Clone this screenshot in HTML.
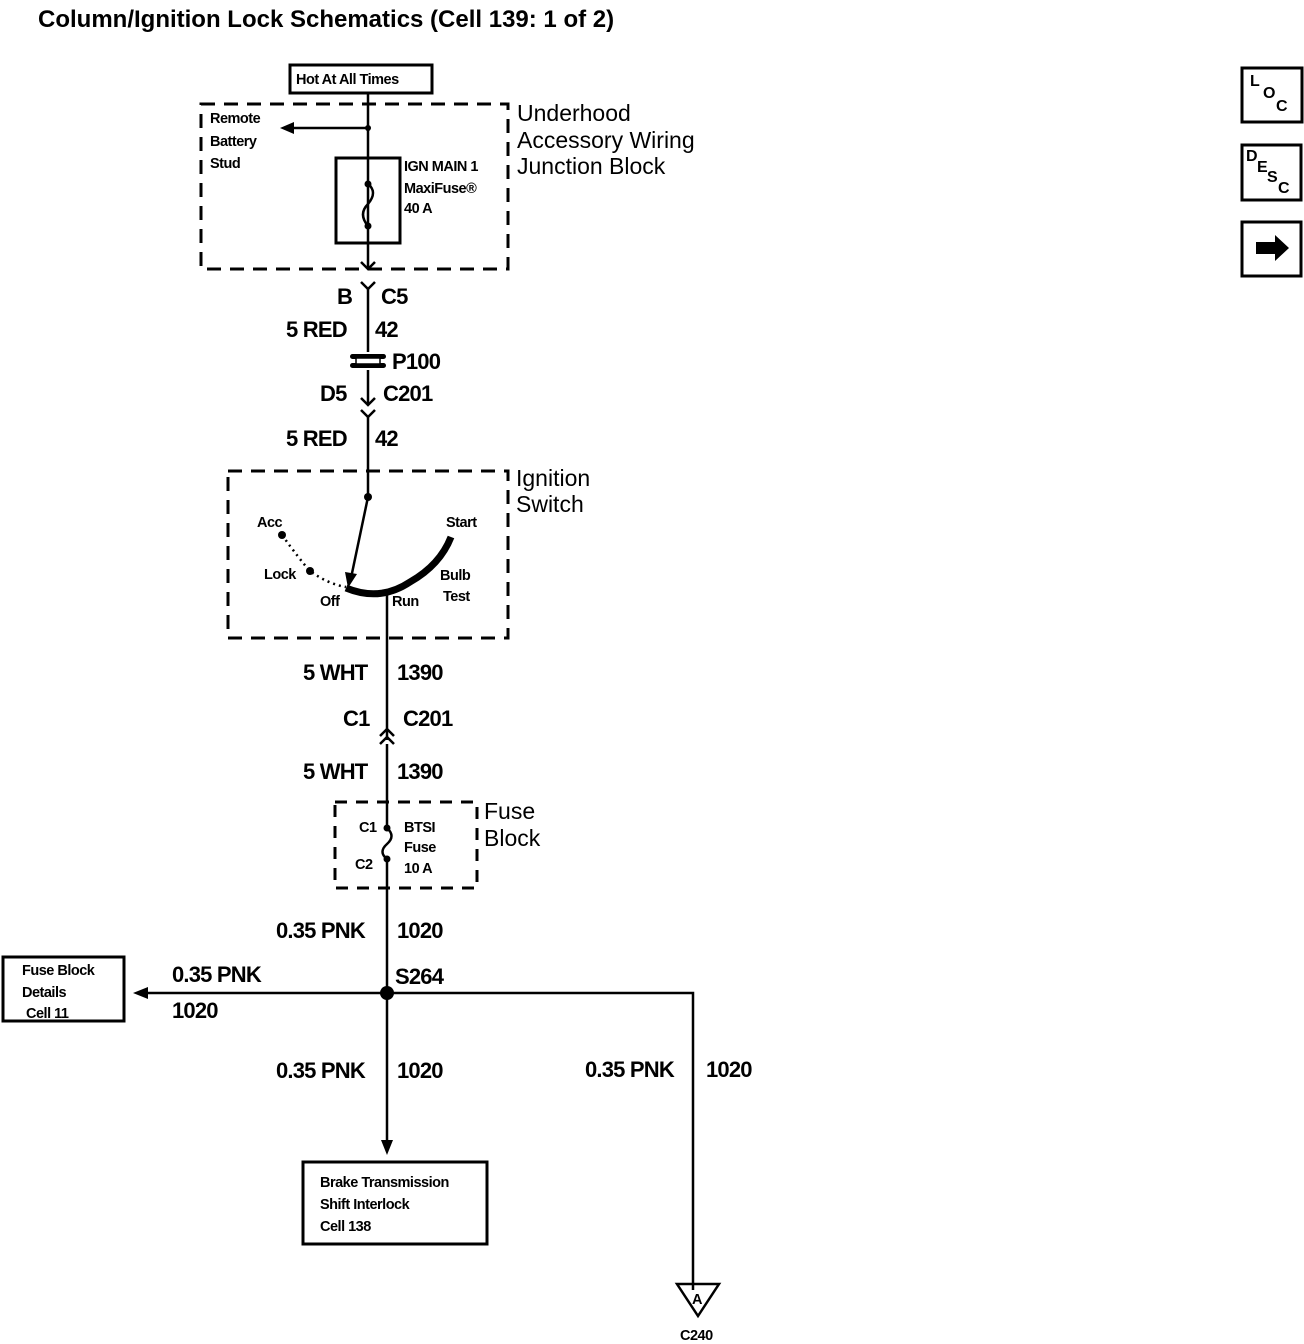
<!DOCTYPE html>
<html><head><meta charset="utf-8"><style>
html,body{margin:0;padding:0;background:#fff;}
svg{display:block;font-family:"Liberation Sans",Arial,sans-serif;}
</style></head><body>
<svg width="1304" height="1344" viewBox="0 0 1304 1344" xmlns="http://www.w3.org/2000/svg">
<g fill="#000" font-weight="bold">
<text x="38" y="27" font-size="24">Column/Ignition Lock Schematics (Cell 139: 1 of 2)</text>
</g>
<g stroke="#000" fill="none" stroke-width="2.5">
<rect x="290" y="65" width="142" height="28" stroke-width="3"/>
<rect x="201" y="104" width="307" height="165" stroke-dasharray="14,9" stroke-width="3"/>
<line x1="368" y1="93" x2="368" y2="268"/>
<line x1="368" y1="128" x2="292" y2="128"/>
<rect x="336" y="158" width="64" height="85" stroke-width="3"/>
<path d="M361,262 L368,269 L375,262"/>
<path d="M361,282 L368,289 L375,282"/>
<line x1="368" y1="289" x2="368" y2="352"/>
<line x1="368" y1="370" x2="368" y2="405"/>
<path d="M361,398 L368,405 L375,398"/>
<path d="M361,410 L368,417 L375,410"/>
<line x1="368" y1="417" x2="368" y2="497"/>
<rect x="228" y="471" width="280" height="167" stroke-dasharray="14,9" stroke-width="3"/>
<line x1="368" y1="497" x2="351" y2="578"/>
<path d="M346,588 Q380,602 410,582 Q440,565 451,537" stroke-width="7"/>
<path d="M282,535 Q300,560 310,571 Q328,584 346,587" stroke-dasharray="2,4"/>
<line x1="387" y1="592" x2="387" y2="740"/>
<path d="M380,736 L387,729 L394,736"/>
<path d="M380,744 L387,737 L394,744"/>
<line x1="387" y1="744" x2="387" y2="828"/>
<rect x="335" y="802" width="142" height="86" stroke-dasharray="12,9" stroke-width="3"/>
<path d="M387,828 Q396,836 387,844 Q378,852 387,859"/>
<line x1="387" y1="859" x2="387" y2="1145"/>
<line x1="387" y1="993" x2="148" y2="993"/>
<path d="M387,993 L693,993 L693,1290"/>
<rect x="3" y="957" width="121" height="64" stroke-width="3"/>
<rect x="303" y="1162" width="184" height="82" stroke-width="3"/>
<path d="M677,1284 L719,1284 L698,1316 Z"/>
<rect x="1242" y="68" width="60" height="54" stroke-width="3"/>
<rect x="1242" y="145" width="59" height="55" stroke-width="3"/>
<rect x="1242" y="222" width="59" height="54" stroke-width="3"/>
</g>
<g fill="#000">
<polygon points="280,128 294,122 294,134"/>
<circle cx="368" cy="128" r="3"/>
<circle cx="368" cy="184" r="3.5"/>
<circle cx="368" cy="226" r="3.5"/>
<path d="M368,184 Q378,192 368,204 Q358,214 368,226" stroke="#000" stroke-width="2.5" fill="none"/>
<rect x="350" y="354" width="36" height="5" rx="2.5"/>
<rect x="350" y="363" width="36" height="5" rx="2.5"/>
<rect x="356" y="358" width="24" height="6" fill="#fff" stroke="#000" stroke-width="1.5"/>
<circle cx="368" cy="497" r="4"/>
<polygon points="348,588 345,572 357,574"/>
<circle cx="282" cy="535" r="4"/>
<circle cx="310" cy="571" r="4"/>
<circle cx="387" cy="828" r="3.5"/>
<circle cx="387" cy="859" r="3.5"/>
<circle cx="387" cy="993" r="7"/>
<polygon points="133,993 148,987 148,999"/>
<polygon points="381,1140 393,1140 387,1155"/>
<polygon points="1256,242 1275,242 1275,235 1289,248 1275,261 1275,254 1256,254"/>
</g>
<g fill="#000" font-size="14.5" font-weight="bold" letter-spacing="-0.5">
<text x="296" y="84">Hot At All Times</text>
<text x="210" y="123">Remote</text>
<text x="210" y="146">Battery</text>
<text x="210" y="168">Stud</text>
<text x="404" y="171">IGN MAIN 1</text>
<text x="404" y="193">MaxiFuse®</text>
<text x="404" y="213">40 A</text>
<text x="257" y="527">Acc</text>
<text x="446" y="527">Start</text>
<text x="264" y="579">Lock</text>
<text x="440" y="580">Bulb</text>
<text x="443" y="601">Test</text>
<text x="320" y="606">Off</text>
<text x="392" y="606">Run</text>
<text x="359" y="832">C1</text>
<text x="355" y="869">C2</text>
<text x="404" y="832">BTSI</text>
<text x="404" y="852">Fuse</text>
<text x="404" y="873">10 A</text>
<text x="22" y="975">Fuse Block</text>
<text x="22" y="997">Details</text>
<text x="26" y="1018">Cell 11</text>
<text x="320" y="1187">Brake Transmission</text>
<text x="320" y="1209">Shift Interlock</text>
<text x="320" y="1231">Cell 138</text>
<text x="692" y="1304">A</text>
<text x="680" y="1340">C240</text>
</g>
<g fill="#000" font-size="23" font-weight="normal">
<text x="517" y="121">Underhood</text>
<text x="517" y="148">Accessory Wiring</text>
<text x="517" y="174">Junction Block</text>
<text x="516" y="486">Ignition</text>
<text x="516" y="512">Switch</text>
<text x="484" y="819">Fuse</text>
<text x="484" y="846">Block</text>
</g>
<g fill="#000" font-size="22" font-weight="bold" letter-spacing="-0.8">
<text x="337" y="304">B</text><text x="381" y="304">C5</text>
<text x="286" y="337">5 RED</text><text x="375" y="337">42</text>
<text x="392" y="369">P100</text>
<text x="320" y="401">D5</text><text x="383" y="401">C201</text>
<text x="286" y="446">5 RED</text><text x="375" y="446">42</text>
<text x="303" y="680">5 WHT</text><text x="397" y="680">1390</text>
<text x="343" y="726">C1</text><text x="403" y="726">C201</text>
<text x="303" y="779">5 WHT</text><text x="397" y="779">1390</text>
<text x="276" y="938">0.35 PNK</text><text x="397" y="938">1020</text>
<text x="172" y="982">0.35 PNK</text><text x="172" y="1018">1020</text>
<text x="395" y="984">S264</text>
<text x="276" y="1078">0.35 PNK</text><text x="397" y="1078">1020</text>
<text x="585" y="1077">0.35 PNK</text><text x="706" y="1077">1020</text>
</g>
<g fill="#000" font-size="16" font-weight="bold">
<text x="1250" y="86">L</text><text x="1263" y="98">O</text><text x="1276" y="111">C</text>
<text x="1246" y="161">D</text><text x="1257" y="172">E</text><text x="1267" y="182">S</text><text x="1278" y="193">C</text>
</g>
</svg>
</body></html>
